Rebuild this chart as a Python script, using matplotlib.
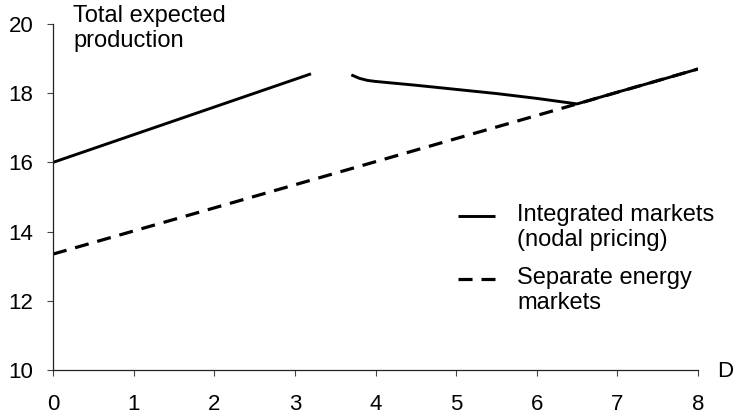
import numpy as np
import matplotlib.pyplot as plt
from matplotlib.legend_handler import HandlerLine2D

plt.rcParams['font.family'] = ['Liberation Sans', 'DejaVu Sans']

# integrated markets (nodal pricing): gap between the two branches
integ_x1 = [0.0, 3.2]
integ_y1 = [16.0, 18.56]
integ_x2 = [3.7, 3.8, 3.9, 4.0, 4.5, 5.0, 5.5, 6.0, 6.5, 7.0, 7.5, 8.0]
integ_y2 = [18.53, 18.43, 18.37, 18.34, 18.23, 18.11, 17.99, 17.85, 17.69, 18.03, 18.36, 18.70]

# separate energy markets
sep_x = [0.0, 6.5, 8.0]
sep_y = [13.35, 17.69, 18.70]

xticks = [0, 1, 2, 3, 4, 5, 6, 7, 8]
yticks = [10, 12, 14, 16, 18, 20]

tick_fs = 16
text_fs = 17
line_sp = 1.2


# put the legend sample next to the first line of a two-line label
class FirstLineHandler(HandlerLine2D):
    def create_artists(self, legend, orig_handle, xdescent, ydescent,
                       width, height, fontsize, trans):
        artists = super().create_artists(legend, orig_handle, xdescent, ydescent,
                                         width, height, fontsize, trans)
        shift = 0.5 * line_sp * 0.87 * fontsize
        for a in artists:
            a.set_ydata(np.asarray(a.get_ydata()) + shift)
        return artists


fig = plt.figure(figsize=(7.34, 4.18), dpi=100)
ax = fig.add_axes([53 / 734, 1 - 370 / 418, 645 / 734, 346 / 418])

l1, = ax.plot(integ_x1, integ_y1, color='black', lw=2.1, solid_capstyle='butt',
              label='Integrated markets\n(nodal pricing)')
ax.plot(integ_x2, integ_y2, color='black', lw=2.1, solid_capstyle='butt')
l2, = ax.plot(sep_x, sep_y, color='black', lw=2.3, dashes=(4.4, 2.8),
              dash_capstyle='butt', label='Separate energy\nmarkets')

ax.set_xlim(0, 8)
ax.set_ylim(10, 20)
ax.set_xticks(xticks)
ax.set_yticks(yticks)
ax.spines['top'].set_visible(False)
ax.spines['right'].set_visible(False)
for s in ['left', 'bottom']:
    ax.spines[s].set_linewidth(0.9)
    ax.spines[s].set_color('#222222')
    ax.spines[s].set_clip_on(False)
ax.tick_params(axis='both', direction='out', length=4.3, width=0.8,
               color='#444444', labelsize=tick_fs)
ax.tick_params(axis='x', pad=13)
ax.tick_params(axis='y', pad=10)

ax.text(20 / 645, 1 + 19 / 346, 'Total expected\nproduction', transform=ax.transAxes,
        ha='left', va='top', fontsize=text_fs, linespacing=line_sp, clip_on=False)
ax.annotate('D', xy=(1, 0), xycoords='axes fraction', xytext=(13.7, -5),
            textcoords='offset points', ha='left', va='baseline', fontsize=tick_fs)

leg = ax.legend(handles=[l1, l2], loc='upper left',
                bbox_to_anchor=(458 / 734, 1 - 204 / 418),
                bbox_transform=fig.transFigure, frameon=False, fontsize=text_fs,
                borderpad=0, borderaxespad=0, handlelength=1.57,
                handletextpad=0.93, labelspacing=0.66,
                handler_map={l1: FirstLineHandler(), l2: FirstLineHandler()})
for t in leg.get_texts():
    t.set_linespacing(line_sp)

fig.savefig('out.png', dpi=100)
